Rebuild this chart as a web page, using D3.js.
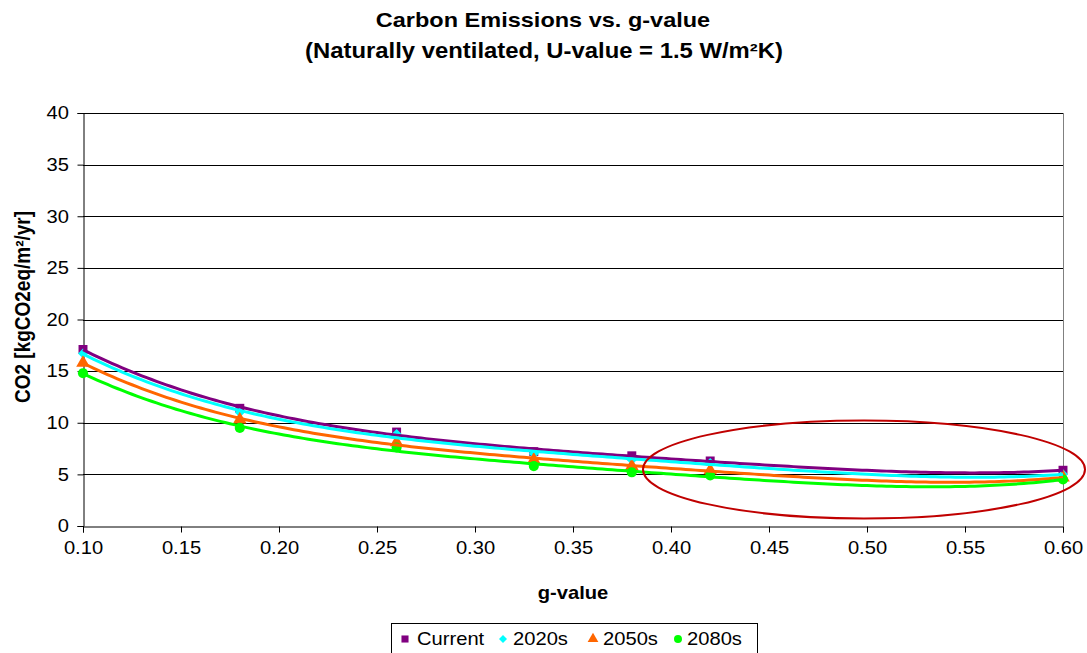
<!DOCTYPE html>
<html>
<head>
<meta charset="utf-8">
<script src="https://cdn.jsdelivr.net/npm/d3@7"></script>
<style>
  body { margin: 0; background: #fff; }
  svg { display: block; font-family: Arial, "Liberation Sans", sans-serif; }
</style>
</head>
<body>
<script>
// g-values of the simulated cases
const gValues = [0.10, 0.18, 0.26, 0.33, 0.38, 0.42, 0.60];

// CO2 per scenario
const current = [17.1, 11.4, 9.1, 7.2, 6.8, 6.3, 5.4];
const s2020 = [16.7, 11.0, 8.9, 7.0, 6.4, 6.1, 5.0];
const s2050 = [15.8, 10.3, 8.1, 6.4, 5.8, 5.4, 4.7];
const s2080 = [14.8, 9.5, 7.6, 5.8, 5.2, 4.9, 4.5];

const seriesNames = ['Current', '2020s', '2050s', '2080s'];
const seriesColors = ['#800080', '#00ffff', '#ff6600', '#00ff00'];
const seriesSymbols = [d3.symbolSquare, d3.symbolSquare, d3.symbolTriangle, d3.symbolCircle];
const seriesRotate = [0, 45, 0, 0];

const xTicks = [0.10, 0.15, 0.20, 0.25, 0.30, 0.35, 0.40, 0.45, 0.50, 0.55, 0.60];
const yTicks = [0, 5, 10, 15, 20, 25, 30, 35, 40];

const width = 1087;
const height = 653;
const margin = {left: 83, top: 113, right: 24, bottom: 127};
const stretch = 1.12; // the original picture is a bit wider than tall

const x = d3.scaleLinear().domain([0.10, 0.60]).range([margin.left, width - margin.right]);
const y = d3.scaleLinear().domain([0, 40]).range([height - margin.bottom, margin.top]);

const svg = d3.select('body').append('svg')
  .attr('width', width)
  .attr('height', height);

const addText = (tx, ty, str, size, bold, anchor = 'middle', rot = 0) => {
  svg.append('text')
    .attr('transform', rot ? `translate(${tx},${ty}) rotate(${rot}) scale(1,${stretch})`
                           : `translate(${tx},${ty}) scale(${stretch},1)`)
    .attr('text-anchor', anchor)
    .attr('font-size', size)
    .attr('font-weight', bold ? 'bold' : 'normal')
    .text(str);
};

// Title
addText(543, 27, 'Carbon Emissions vs. g-value', 21, true);
addText(544, 58, '(Naturally ventilated, U-value = 1.5 W/m²K)', 21.3, true);

// Gridlines
svg.append('g')
  .selectAll('line')
  .data(yTicks.slice(1))
  .join('line')
  .attr('x1', x(0.10)).attr('x2', x(0.60))
  .attr('y1', d => Math.round(y(d)) + 0.5).attr('y2', d => Math.round(y(d)) + 0.5)
  .attr('stroke', '#000').attr('stroke-width', 1);

// Right border of plot area
svg.append('line')
  .attr('x1', Math.round(x(0.60)) + 0.5).attr('x2', Math.round(x(0.60)) + 0.5)
  .attr('y1', y(40)).attr('y2', y(0))
  .attr('stroke', '#808080');

// Axes
const yAxis = svg.append('g')
  .attr('transform', `translate(${Math.round(x(0.10)) + 0.5},0)`)
  .call(d3.axisLeft(y).tickValues(yTicks).tickSize(6).tickPadding(7).tickFormat(d3.format('d')));
const xAxis = svg.append('g')
  .attr('transform', `translate(0,${Math.round(y(0)) + 0.5})`)
  .call(d3.axisBottom(x).tickValues(xTicks).tickSize(6).tickPadding(9).tickFormat(d3.format('.2f')));

[xAxis, yAxis].forEach(ax => {
  ax.select('.domain').attr('stroke', '#000');
  ax.selectAll('.tick line').attr('stroke', '#000');
  ax.selectAll('.tick text')
    .attr('font-size', 18)
    .attr('font-family', 'Arial, "Liberation Sans", sans-serif')
    .attr('fill', '#000')
    .attr('transform', `scale(${stretch},1)`);
});

// Axis titles
addText(x(0.35), 599, 'g-value', 18, true);
addText(30, 307, 'CO2 [kgCO2eq/m²/yr]', 19, true, 'middle', -90);

// Polynomial least-squares trendline (like Excel's polynomial trendline)
const polyFit = (xs, ys, order) => {
  const n = order + 1;
  const A = d3.range(n).map(() => new Array(n + 1).fill(0));
  xs.forEach((xv, k) => {
    for (let i = 0; i < n; i++) {
      for (let j = 0; j < n; j++) A[i][j] += Math.pow(xv, i + j);
      A[i][n] += ys[k] * Math.pow(xv, i);
    }
  });
  for (let i = 0; i < n; i++) {
    let p = i;
    for (let r = i + 1; r < n; r++) if (Math.abs(A[r][i]) > Math.abs(A[p][i])) p = r;
    [A[i], A[p]] = [A[p], A[i]];
    for (let r = 0; r < n; r++) {
      if (r === i) continue;
      const f = A[r][i] / A[i][i];
      for (let c = i; c <= n; c++) A[r][c] -= f * A[i][c];
    }
  }
  const coef = A.map((row, i) => row[n] / row[i]);
  return xv => coef.reduce((s, c, i) => s + c * Math.pow(xv, i), 0);
};

const allSeries = [current, s2020, s2050, s2080];
const curveX = d3.range(0.10, 0.6001, 0.0025);
const line = d3.line().x(d => x(d[0])).y(d => y(d[1]));

const markG = svg.append('g');
const lineG = svg.append('g');

allSeries.forEach((vals, si) => {
  const pts = gValues.map((g, i) => [g, vals[i]]);
  markG.selectAll(null)
    .data(pts)
    .join('path')
    .attr('transform', d => `translate(${x(d[0])},${y(d[1])}) rotate(${seriesRotate[si]})`)
    .attr('d', d3.symbol().type(seriesSymbols[si]).size(si === 1 ? 50 : 80))
    .attr('fill', seriesColors[si]);
});

allSeries.forEach((vals, si) => {
  const fit = polyFit(gValues, vals, 4);
  lineG.append('path')
    .datum(curveX.map(g => [g, fit(g)]))
    .attr('d', line)
    .attr('fill', 'none')
    .attr('stroke', seriesColors[si])
    .attr('stroke-width', 3);
});

// Highlight ellipse
svg.append('ellipse')
  .attr('cx', 864).attr('cy', 469.5)
  .attr('rx', 221).attr('ry', 49)
  .attr('fill', 'none')
  .attr('stroke', '#c00000')
  .attr('stroke-width', 2);

// Legend
const legend = svg.append('g');
legend.append('rect')
  .attr('x', 391.5).attr('y', 623.5)
  .attr('width', 366).attr('height', 40)
  .attr('fill', '#fff').attr('stroke', '#000');

const legendMarkX = [405, 503, 593, 678];
const legendTextX = [417, 513, 603, 687];
seriesNames.forEach((name, i) => {
  legend.append('path')
    .attr('transform', `translate(${legendMarkX[i]},${639}) rotate(${seriesRotate[i]})`)
    .attr('d', d3.symbol().type(seriesSymbols[i]).size(i === 1 ? 32 : 50))
    .attr('fill', seriesColors[i]);
  legend.append('text')
    .attr('transform', `translate(${legendTextX[i]},645) scale(${stretch},1)`)
    .attr('font-size', 18)
    .text(name);
});
</script>
</body>
</html>
